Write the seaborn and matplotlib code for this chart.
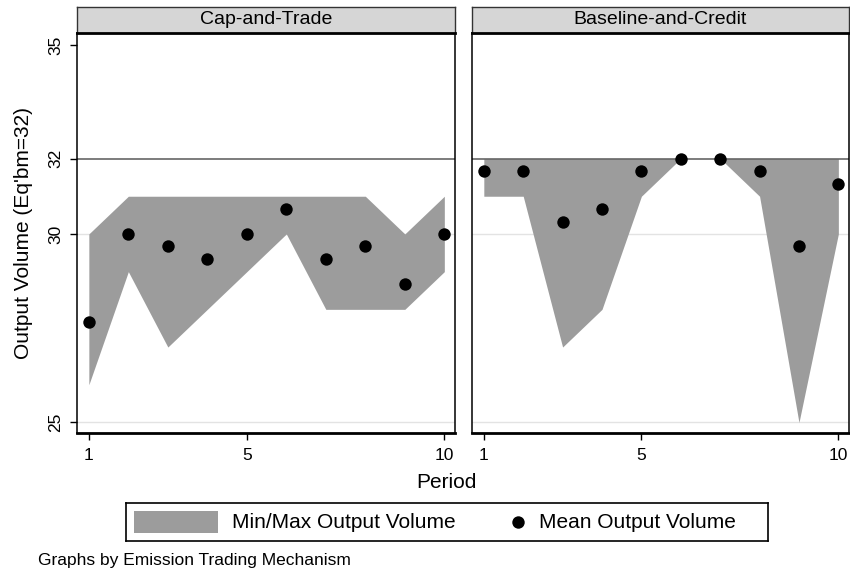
import numpy as np
import pandas as pd
import matplotlib
matplotlib.use("Agg")
import matplotlib.pyplot as plt
from matplotlib.patches import Rectangle
import seaborn as sns

# ---- data ----
periods = [1, 2, 3, 4, 5, 6, 7, 8, 9, 10]
ct_mean = [27.67, 30.0, 29.67, 29.33, 30.0, 30.67, 29.33, 29.67, 28.67, 30.0]
ct_min = [26, 29, 27, 28, 29, 30, 28, 28, 28, 29]
ct_max = [30, 31, 31, 31, 31, 31, 31, 31, 30, 31]
bc_mean = [31.67, 31.67, 30.33, 30.67, 31.67, 32.0, 32.0, 31.67, 29.67, 31.33]
bc_min = [31, 31, 27, 28, 31, 32, 32, 31, 25, 30]
bc_max = [32, 32, 32, 32, 32, 32, 32, 32, 32, 32]
panels = ["Cap-and-Trade", "Baseline-and-Credit"]
y_ticks = [25, 30, 32, 35]
x_ticks = [1, 5, 10]
equilibrium = 32

frames = []
for name, mn, lo, hi in [(panels[0], ct_mean, ct_min, ct_max),
                         (panels[1], bc_mean, bc_min, bc_max)]:
    frames.append(pd.DataFrame({"mechanism": name, "period": periods,
                                "mean": mn, "min": lo, "max": hi}))
df = pd.concat(frames, ignore_index=True)

sns.set_style("white")
plt.rcParams["font.family"] = ["Liberation Sans", "DejaVu Sans"]
plt.rcParams["text.color"] = "black"
plt.rcParams["axes.labelcolor"] = "black"
plt.rcParams["xtick.color"] = "black"
plt.rcParams["ytick.color"] = "black"

W, H = 850, 573
fig = plt.figure(figsize=(W / 100, H / 100), dpi=100)

def fx(px):
    return px / W

def fy(py):
    return 1 - py / H

FILL = "#9c9c9c"
panel_x = [(77, 455), (472, 849)]
ax_top, ax_bot = 33, 433
strip_top = 7

for i, name in enumerate(panels):
    x0, x1 = panel_x[i]
    ax = fig.add_axes([fx(x0), fy(ax_bot), fx(x1 - x0), (ax_bot - ax_top) / H])
    sub = df[df["mechanism"] == name]
    for g in [25, 30]:
        ax.axhline(g, color="#e3e3e3", lw=1.0, zorder=0)
    ax.fill_between(sub["period"], sub["min"], sub["max"], color=FILL,
                    lw=0, zorder=1)
    ax.axhline(equilibrium, color="#666666", lw=1.2, zorder=2)
    sns.scatterplot(data=sub, x="period", y="mean", ax=ax, color="black",
                    s=80, linewidth=0, zorder=3, clip_on=False, legend=False)
    ax.set_xlim(0.7, 10.27)
    ax.set_ylim(24.72, 35.33)
    ax.set_xticks(x_ticks)
    ax.set_xticklabels([str(t) for t in x_ticks], fontsize=12.5)
    ax.set_xlabel("")
    ax.set_ylabel("")
    ax.tick_params(axis="x", direction="out", length=5, width=1,
                   color="black", pad=6, bottom=True)
    if i == 0:
        ax.set_yticks(y_ticks)
        ax.set_yticklabels([str(t) for t in y_ticks], fontsize=12.5,
                           rotation=90, va="center")
        ax.tick_params(axis="y", direction="out", length=5, width=1,
                       color="black", pad=5, left=True)
        ax.set_ylabel("Output Volume (Eq'bm=32)", fontsize=15, labelpad=11)
    else:
        ax.set_yticks([])
    for s in ["left", "right", "top"]:
        ax.spines[s].set_color("black")
        ax.spines[s].set_linewidth(1.1)
    ax.spines["bottom"].set_color("black")
    ax.spines["bottom"].set_linewidth(2.0)

    sax = fig.add_axes([fx(x0), fy(ax_top), fx(x1 - x0), (ax_top - strip_top) / H])
    sax.set_facecolor("#d6d6d6")
    sax.set_xticks([])
    sax.set_yticks([])
    for s in ["left", "right", "top"]:
        sax.spines[s].set_color("#333333")
        sax.spines[s].set_linewidth(1.0)
    sax.spines["bottom"].set_color("black")
    sax.spines["bottom"].set_linewidth(2.0)
    sax.text(0.5, 0.5, name, ha="center", va="center", fontsize=14,
             transform=sax.transAxes)

fig.text(fx(446), fy(483), "Period", ha="center", va="center", fontsize=15)

# legend box
lx0, lx1, ly0, ly1 = 126, 768, 503, 541
lax = fig.add_axes([fx(lx0), fy(ly1), fx(lx1 - lx0), (ly1 - ly0) / H])
lax.set_xlim(0, lx1 - lx0)
lax.set_ylim(0, ly1 - ly0)
lax.set_xticks([])
lax.set_yticks([])
for s in lax.spines.values():
    s.set_color("black")
    s.set_linewidth(1.2)
lax.add_patch(Rectangle((8, 8), 84, 22, facecolor=FILL, edgecolor="none"))
lax.text(106, 19, "Min/Max Output Volume", ha="left", va="center", fontsize=15)
lax.scatter([392], [19], s=80, color="black", linewidth=0)
lax.text(413, 19, "Mean Output Volume", ha="left", va="center", fontsize=15)

fig.text(fx(38), fy(561), "Graphs by Emission Trading Mechanism",
         ha="left", va="center", fontsize=12.5)

fig.savefig("out.png", dpi=100)
